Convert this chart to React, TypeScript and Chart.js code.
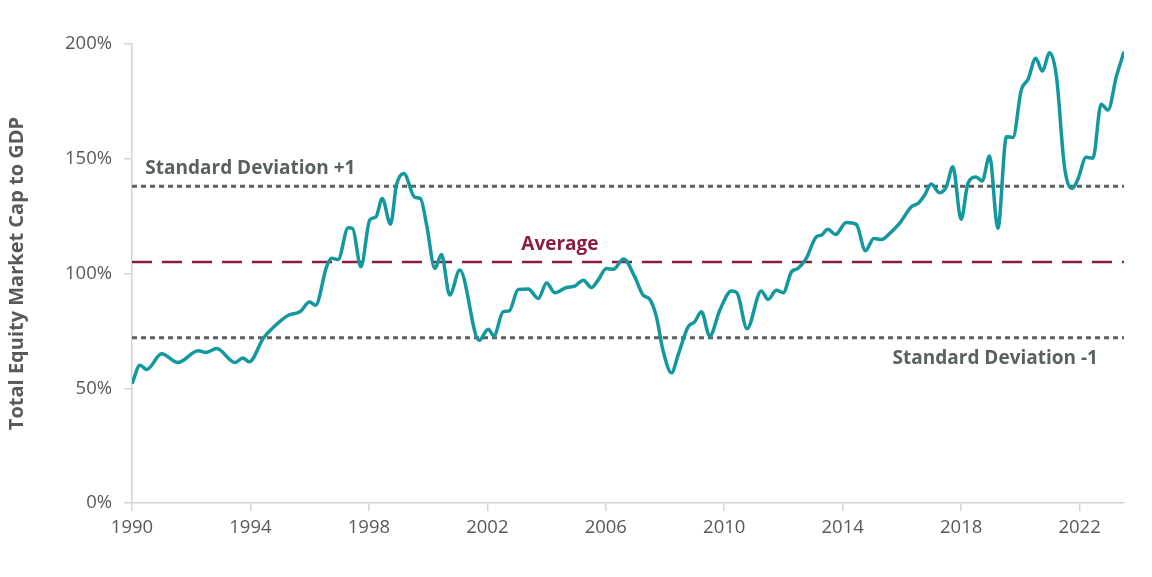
import React, { useEffect, useRef } from "react";
import { Chart, registerables } from "chart.js";

Chart.register(...registerables);

const years = [
  1990.0, 1990.27, 1990.5, 1991.0, 1991.55, 1992.24, 1992.5, 1992.86, 1993.48, 1993.74,
  1993.96, 1994.43, 1994.83, 1995.28, 1995.67, 1996.0, 1996.2, 1996.57, 1996.74, 1996.96,
  1997.3, 1997.45, 1997.73, 1998.03, 1998.24, 1998.45, 1998.73, 1998.93, 1999.18, 1999.55,
  1999.74, 1999.95, 2000.23, 2000.45, 2000.73, 2001.07, 2001.72, 2002.03, 2002.22, 2002.53,
  2002.74, 2003.04, 2003.38, 2003.72, 2004.0, 2004.28, 2004.67, 2004.95, 2005.24, 2005.52,
  2005.74, 2006.02, 2006.25, 2006.6, 2006.98, 2007.26, 2007.49, 2007.71, 2007.93, 2008.22,
  2008.44, 2008.78, 2009.0, 2009.23, 2009.51, 2009.85, 2010.24, 2010.43, 2010.77, 2011.25,
  2011.48, 2011.76, 2011.99, 2012.27, 2012.49, 2012.77, 2013.11, 2013.28, 2013.5, 2013.76,
  2014.12, 2014.46, 2014.77, 2015.05, 2015.31, 2015.59, 2015.92, 2016.32, 2016.54, 2016.77,
  2016.99, 2017.27, 2017.5, 2017.72, 2018.0, 2018.23, 2018.51, 2018.71, 2018.96, 2019.24,
  2019.53, 2019.75, 2020.03, 2020.26, 2020.52, 2020.74, 2020.99, 2021.22, 2021.49, 2021.75,
  2021.94, 2022.22, 2022.45, 2022.73, 2022.96, 2023.24, 2023.5,
];

const marketCapToGdp = [
  52.0, 60.0, 58.2, 65.0, 61.2, 66.3, 65.6, 67.3, 61.2, 63.2,
  61.5, 71.7, 77.2, 81.8, 83.3, 87.6, 86.2, 102.9, 106.6, 106.1,
  119.9, 119.6, 102.9, 123.3, 124.7, 132.7, 121.5, 138.5, 143.6, 133.2,
  132.7, 121.1, 102.2, 108.3, 90.6, 101.5, 70.9, 75.7, 72.8, 83.3,
  83.7, 93.0, 93.2, 89.1, 95.9, 91.6, 93.9, 94.5, 97.1, 93.9,
  97.1, 102.2, 101.8, 106.3, 98.5, 90.6, 88.7, 81.1, 66.6, 56.7,
  64.4, 76.7, 78.9, 83.3, 72.7, 84.0, 92.4, 91.6, 76.0, 92.4,
  88.7, 92.7, 91.6, 100.7, 102.2, 106.6, 116.0, 116.7, 119.3, 117.0,
  122.2, 121.4, 109.9, 115.3, 114.8, 117.5, 121.8, 129.1, 130.5, 134.2,
  139.0, 135.2, 137.8, 146.5, 123.6, 139.3, 142.1, 140.3, 151.2, 119.6,
  159.6, 159.3, 179.9, 184.6, 193.8, 188.2, 196.2, 185.7, 146.5, 137.1,
  141.0, 150.6, 150.2, 173.8, 171.2, 185.7, 196.6,
];

const averageValue = 105;
const sdPlusValue = 138;
const sdMinusValue = 72;

const xTickYears = [1990, 1994, 1998, 2002, 2006, 2010, 2014, 2018, 2022];
const yTickValues = [0, 50, 100, 150, 200];

const xMin = 1990;
const xMax = 2023.5;

const labelTexts = ["Standard Deviation +1", "Average", "Standard Deviation -1"];
const labelYears = [1990.45, 2004.45, 2022.62];
const labelValues = [145.6, 112.6, 62.8];
const labelAligns: CanvasTextAlign[] = ["left", "center", "right"];
const labelColors = ["#57625f", "#8a1c44", "#57625f"];

const FONT = "'Open Sans', 'Noto Sans', sans-serif";

const labelPlugin = {
  id: "refLabels",
  afterDatasetsDraw(chart: any) {
    const { ctx, scales } = chart;
    ctx.save();
    ctx.font = `bold 19px ${FONT}`;
    ctx.textBaseline = "middle";
    labelTexts.forEach((t, i) => {
      ctx.fillStyle = labelColors[i];
      ctx.textAlign = labelAligns[i];
      ctx.fillText(t, scales.x.getPixelForValue(labelYears[i]), scales.y.getPixelForValue(labelValues[i]));
    });
    ctx.restore();
  },
};

export default function App() {
  const ref = useRef<HTMLCanvasElement | null>(null);

  useEffect(() => {
    if (!ref.current) return;
    const flat = (v: number) => [
      { x: xMin, y: v },
      { x: xMax, y: v },
    ];
    const chart = new Chart(ref.current, {
      type: "line",
      data: {
        datasets: [
          {
            label: "Total Equity Market Cap to GDP",
            data: years.map((y, i) => ({ x: y, y: marketCapToGdp[i] })),
            borderColor: "#12989e",
            borderWidth: 3.5,
            pointRadius: 0,
            cubicInterpolationMode: "monotone",
            fill: false,
          },
          {
            label: "Average",
            data: flat(averageValue),
            borderColor: "#8a1c44",
            borderWidth: 2.5,
            borderDash: [20, 10],
            pointRadius: 0,
          },
          {
            label: "Standard Deviation +1",
            data: flat(sdPlusValue),
            borderColor: "#59625f",
            borderWidth: 3,
            borderDash: [5, 4],
            pointRadius: 0,
          },
          {
            label: "Standard Deviation -1",
            data: flat(sdMinusValue),
            borderColor: "#59625f",
            borderWidth: 3,
            borderDash: [5, 4],
            pointRadius: 0,
          },
        ],
      },
      options: {
        animation: false,
        responsive: true,
        maintainAspectRatio: false,
        layout: { padding: { left: 0, right: 28, top: 44, bottom: 0 } },
        plugins: {
          legend: { display: false },
          tooltip: { enabled: false },
        },
        scales: {
          x: {
            type: "linear",
            min: xMin,
            max: xMax,
            afterBuildTicks: (s: any) => {
              s.ticks = xTickYears.map((v) => ({ value: v }));
            },
            afterFit: (s: any) => {
              s.height = 74;
            },
            border: { display: true, color: "#d4d4d4", width: 1.5 },
            grid: {
              drawOnChartArea: false,
              drawTicks: true,
              tickLength: 8,
              color: "#d4d4d4",
              lineWidth: 1.5,
            },
            ticks: {
              color: "#595959",
              font: { family: FONT, size: 18.5 },
              padding: 6,
              maxRotation: 0,
              autoSkip: false,
              callback: (v: any) => String(v),
            },
          },
          y: {
            type: "linear",
            min: 0,
            max: 200,
            afterBuildTicks: (s: any) => {
              s.ticks = yTickValues.map((v) => ({ value: v }));
            },
            afterFit: (s: any) => {
              s.width = 132;
            },
            border: { display: true, color: "#d4d4d4", width: 1.5 },
            grid: {
              drawOnChartArea: false,
              drawTicks: true,
              tickLength: 8,
              color: "#d4d4d4",
              lineWidth: 1.5,
            },
            ticks: {
              color: "#595959",
              font: { family: FONT, size: 18.5 },
              padding: 12,
              callback: (v: any) => `${v}%`,
            },
            title: {
              display: true,
              text: "Total Equity Market Cap to GDP",
              color: "#595959",
              font: { family: FONT, size: 20, weight: "bold" },
              padding: { top: 5, bottom: 0 },
            },
          },
        },
      },
      plugins: [labelPlugin],
    });
    return () => chart.destroy();
  }, []);

  return (
    <div style={{ position: "fixed", left: 0, top: 0, width: 1152, height: 577, background: "#fff" }}>
      <canvas ref={ref} />
    </div>
  );
}
